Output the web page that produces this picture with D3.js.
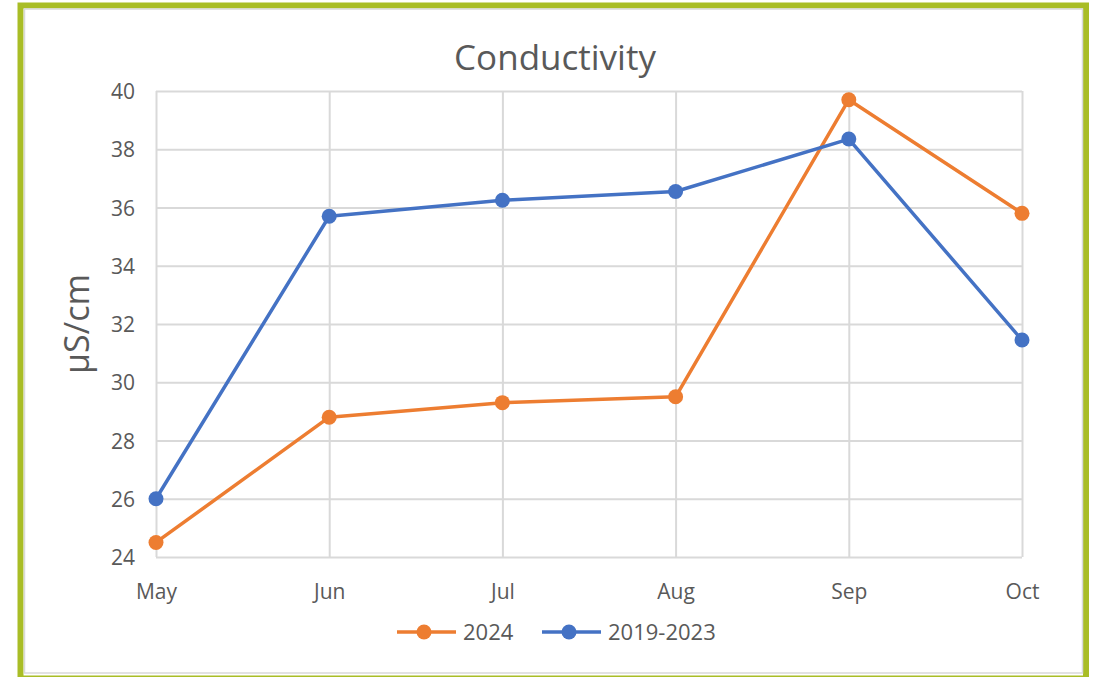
<!DOCTYPE html>
<html>
<head>
<meta charset="utf-8">
<script src="https://cdn.jsdelivr.net/npm/d3@7"></script>
<style>
  body { margin: 0; background: #fff; }
  svg { display: block; font-family: "Open Sans", "Noto Sans", sans-serif; }
  .tick text { fill: #595959; font-size: 21px; font-family: "Open Sans", "Noto Sans", sans-serif; }
</style>
</head>
<body>
<svg id="chart"></svg>
<script>
// data
const months = ['May', 'Jun', 'Jul', 'Aug', 'Sep', 'Oct'];
const values2024 = [24.5, 28.8, 29.3, 29.5, 39.7, 35.8];
const valuesAvg = [26.0, 35.7, 36.25, 36.55, 38.35, 31.45];
const yTicks = [24, 26, 28, 30, 32, 34, 36, 38, 40];
const seriesNames = ['2024', '2019-2023'];
const seriesColors = ['#ED7D31', '#4472C4'];

// sizes
let width = 1096;
let height = 677;
let plotLeft = 156;
let plotRight = 1022;
let plotTop = 91;
let plotBottom = 557;

let svg = d3.select('#chart')
    .attr('width', width)
    .attr('height', height);

// frame
svg.append('rect')
    .attr('x', 20.5).attr('y', 5.5)
    .attr('width', 1065.5).attr('height', 673)
    .style('fill', 'none')
    .style('stroke', '#A9BD26')
    .style('stroke-width', 6);
svg.append('rect')
    .attr('x', 24.5).attr('y', 9)
    .attr('width', 1058).attr('height', 664)
    .style('fill', 'none')
    .style('stroke', '#d9d9d9')
    .style('stroke-width', 1.5);

// scales
let xScale = d3.scalePoint()
    .domain(months)
    .range([plotLeft, plotRight]);

let yScale = d3.scaleLinear()
    .domain([24, 40])
    .range([plotBottom, plotTop]);

// y grid + labels
svg.append('g')
    .attr('transform', `translate(${plotLeft}, 0)`)
    .call(d3.axisRight(yScale)
        .tickValues(yTicks)
        .tickSize(plotRight - plotLeft)
        .tickFormat(d3.format('d')))
    .call(g => g.select('.domain').remove())
    .call(g => g.selectAll('.tick line')
        .style('stroke', '#d9d9d9')
        .style('stroke-width', 2))
    .call(g => g.selectAll('.tick text')
        .attr('x', -21)
        .attr('dy', '0.36em')
        .style('text-anchor', 'end'));

// x grid + labels
svg.append('g')
    .attr('transform', `translate(0, ${plotTop})`)
    .call(d3.axisBottom(xScale)
        .tickSize(plotBottom - plotTop))
    .call(g => g.select('.domain').remove())
    .call(g => g.selectAll('.tick line')
        .style('stroke', '#d9d9d9')
        .style('stroke-width', 2))
    .call(g => g.selectAll('.tick text')
        .attr('y', 599 - plotTop)
        .attr('dy', 0));

// title
svg.append('text')
    .attr('x', 555)
    .attr('y', 70)
    .style('text-anchor', 'middle')
    .style('font-size', '35px')
    .style('fill', '#595959')
    .text('Conductivity');

// y axis title
svg.append('text')
    .attr('transform', `translate(89, ${(plotTop + plotBottom) / 2}) rotate(-90)`)
    .style('text-anchor', 'middle')
    .style('font-size', '34px')
    .style('fill', '#595959')
    .text('µS/cm');

// lines
let line = d3.line()
    .x((d, i) => xScale(months[i]))
    .y(d => yScale(d));

let seriesData = [values2024, valuesAvg];

seriesData.forEach((vals, s) => {
    svg.append('path')
        .datum(vals)
        .attr('d', line)
        .style('fill', 'none')
        .style('stroke', seriesColors[s])
        .style('stroke-width', 3.5)
        .style('stroke-linejoin', 'round');

    svg.append('g')
        .selectAll('circle')
        .data(vals)
        .enter()
        .append('circle')
        .attr('cx', (d, i) => xScale(months[i]))
        .attr('cy', d => yScale(d))
        .attr('r', 7.5)
        .style('fill', seriesColors[s]);
});

// legend
let legendX = [397, 542];
let legendY = 632;
seriesNames.forEach((name, s) => {
    let lg = svg.append('g')
        .attr('transform', `translate(${legendX[s]}, ${legendY})`);
    lg.append('line')
        .attr('x1', 0).attr('x2', 59)
        .attr('y1', 0).attr('y2', 0)
        .style('stroke', seriesColors[s])
        .style('stroke-width', 3.5);
    lg.append('circle')
        .attr('cx', 27).attr('cy', 0)
        .attr('r', 7.5)
        .style('fill', seriesColors[s]);
    lg.append('text')
        .attr('x', 66)
        .attr('y', 8)
        .style('font-size', '22px')
        .style('fill', '#595959')
        .text(name);
});
</script>
</body>
</html>
